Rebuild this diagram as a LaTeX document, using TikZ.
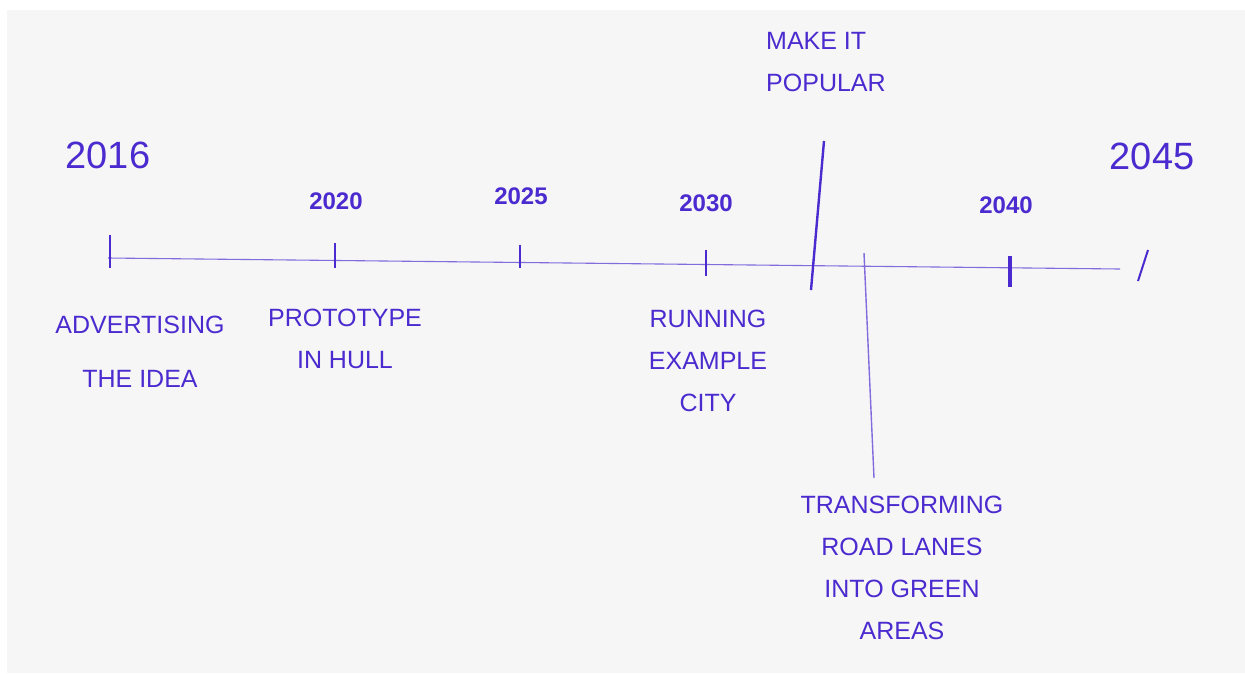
\documentclass[tikz,border=0pt]{standalone}
\usepackage{fontspec}
\setmainfont{Liberation Sans}
\definecolor{ink}{HTML}{4B2BCF}
\definecolor{paper}{HTML}{F5F6F5}
\begin{document}
\begin{tikzpicture}[x=1pt,y=-1pt]
            \tikzstyle{axis}=[draw=ink!70, line width=1.1pt]
            \tikzstyle{tick}=[draw=ink, line width=2pt]
            \tikzstyle{bigyear}=[text=ink, font=\fontsize{38}{40}\selectfont]
            \tikzstyle{year}=[text=ink, font=\fontsize{24}{26}\selectfont\bfseries]
            \tikzstyle{event}=[text=ink, font=\fontsize{25}{42}\selectfont, inner sep=0pt]
            \fill[white] (0,0) rectangle (1245,673);
            \fill[paper] (7,10) rectangle (1245,673);
            \useasboundingbox (0,0) rectangle (1245,673);
            % the time axis
            \coordinate (axisL) at (108,258);
            \coordinate (axisR) at (1120,269);
            \draw[axis] (axisL) -- (axisR);
            % ticks
            \coordinate (t16a) at (110,235); \coordinate (t16b) at (110,268);
            \coordinate (t20a) at (335,243); \coordinate (t20b) at (335,268);
            \coordinate (t25a) at (520,245); \coordinate (t25b) at (520,268);
            \coordinate (t30a) at (706,250); \coordinate (t30b) at (706,276);
            \coordinate (t40a) at (1010,256); \coordinate (t40b) at (1010,287);
            \coordinate (t45a) at (1148,250); \coordinate (t45b) at (1138,281);
            \draw[tick] (t16a) -- (t16b);
            \draw[tick] (t20a) -- (t20b);
            \draw[tick] (t25a) -- (t25b);
            \draw[tick] (t30a) -- (t30b);
            \draw[tick, line width=3.5pt] (t40a) -- (t40b);
            \draw[tick] (t45a) -- (t45b);
            % years
            \node[bigyear] (y16) at (108,155) {2016};
            \node[year] (y20) at (336,201) {2020};
            \node[year] (y25) at (521,196) {2025};
            \node[year] (y30) at (706,203) {2030};
            \node[year] (y40) at (1006,205) {2040};
            \node[bigyear] (y45) at (1152,156) {2045};
            % milestones
            \node[event, align=left, anchor=west] (popular) at (766,62) {MAKE IT\\POPULAR};
            \coordinate (popA) at (824,141); \coordinate (popB) at (811,290);
            \draw[tick, line width=2.4pt] (popA) -- (popB);
            \node[event, align=center] (advert) at (140,352) {ADVERTISING\\[12pt]THE IDEA};
            \node[event, align=center] (proto) at (345,339) {PROTOTYPE\\IN HULL};
            \node[event, align=center] (running) at (708,361) {RUNNING\\EXAMPLE\\CITY};
            \node[event, align=center] (transform) at (902,568) {TRANSFORMING\\ROAD LANES\\INTO GREEN\\AREAS};
            \coordinate (trA) at (864,253); \coordinate (trB) at (874,478);
            \draw[axis, line width=1.4pt] (trA) -- (trB);
\end{tikzpicture}
\end{document}
